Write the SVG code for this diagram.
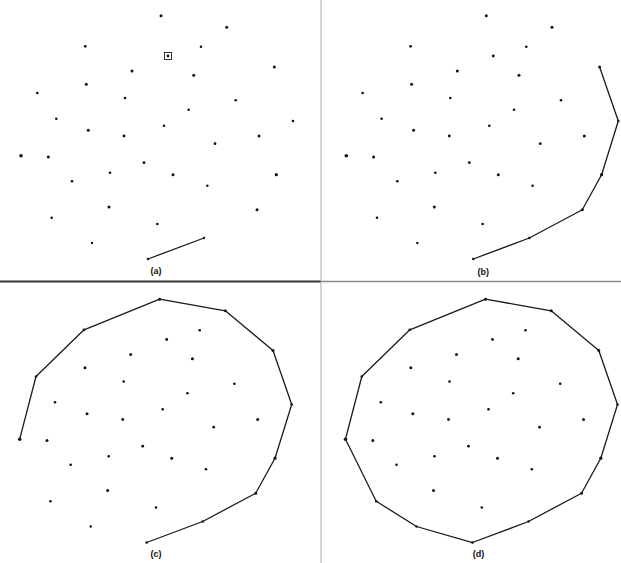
<svg xmlns="http://www.w3.org/2000/svg" xmlns:xlink="http://www.w3.org/1999/xlink" width="621" height="563" viewBox="0 0 621 563">
<style>
.pt{fill:#111}
.hull{fill:none;stroke:#1a1a1a;stroke-width:1.3;stroke-linejoin:round;stroke-linecap:round}
.lbl{font-family:"Liberation Sans",Arial,sans-serif;font-size:9px;font-weight:bold;fill:#111;text-anchor:middle}
</style>
<defs>
<g id="pts" class="pt">
<circle cx="85.3" cy="46.3" r="1.4"/>
<circle cx="132" cy="71" r="1.5"/>
<circle cx="86.3" cy="84.3" r="1.5"/>
<circle cx="37.3" cy="93" r="1.3"/>
<circle cx="125" cy="98" r="1.3"/>
<circle cx="56.3" cy="118.7" r="1.3"/>
<circle cx="88.3" cy="130.3" r="1.5"/>
<circle cx="124" cy="136" r="1.4"/>
<circle cx="21" cy="155.7" r="1.8"/>
<circle cx="48.3" cy="157" r="1.5"/>
<circle cx="144" cy="162.7" r="1.4"/>
<circle cx="110" cy="172.7" r="1.3"/>
<circle cx="72" cy="181.3" r="1.3"/>
<circle cx="109" cy="207" r="1.5"/>
<circle cx="51.7" cy="217.7" r="1.3"/>
<circle cx="92" cy="243" r="1.2"/>
<circle cx="157.3" cy="224" r="1.3"/>
<circle cx="161" cy="15.7" r="1.5"/>
<circle cx="226.7" cy="27.3" r="1.5"/>
<circle cx="201" cy="46.7" r="1.3"/>
<circle cx="168" cy="56" r="1.4"/>
<circle cx="274.3" cy="67" r="1.5"/>
<circle cx="193.7" cy="75.3" r="1.5"/>
<circle cx="235.7" cy="100.3" r="1.3"/>
<circle cx="188.7" cy="109.7" r="1.3"/>
<circle cx="164" cy="125.7" r="1.3"/>
<circle cx="293" cy="121" r="1.3"/>
<circle cx="259" cy="136" r="1.5"/>
<circle cx="215" cy="143.7" r="1.4"/>
<circle cx="173" cy="174.7" r="1.5"/>
<circle cx="276.3" cy="174.7" r="1.6"/>
<circle cx="207.3" cy="185.7" r="1.3"/>
<circle cx="257" cy="209.7" r="1.5"/>
<circle cx="148" cy="259" r="1.3"/>
<circle cx="204" cy="238" r="1.2"/>
</g>
</defs>
<rect width="621" height="563" fill="#fff"/>
<g id="dividers">
<line x1="0" y1="281.5" x2="321" y2="281.5" stroke="#333" stroke-width="1.8"/>
<line x1="321" y1="281.5" x2="621" y2="281.5" stroke="#8a8a8a" stroke-width="1.3"/>
<line x1="321" y1="0" x2="321" y2="563" stroke="#aaa" stroke-width="1"/>
</g>
<g id="panel-a">
<use xlink:href="#pts"/>
<rect x="164.5" y="52.5" width="7" height="7" fill="none" stroke="#333" stroke-width="1"/>
<polyline class="hull" points="148,259 204,238"/>
<text class="lbl" x="156" y="274">(a)</text>
</g>
<g id="panel-b" transform="translate(325.3,0)">
<use xlink:href="#pts"/>
<polyline class="hull" points="148,259 204,238 257,209.7 276.3,174.7 293,121 274.3,67"/>
<text class="lbl" x="158" y="275">(b)</text>
</g>
<g id="panel-c" transform="translate(-1.3,283.5)">
<use xlink:href="#pts"/>
<polyline class="hull" points="148,259 204,238 257,209.7 276.3,174.7 293,121 274.3,67 226.7,27.3 161,15.7 85.3,46.3 37.3,93 21,155.7"/>
<text class="lbl" x="157.3" y="273.5">(c)</text>
</g>
<g id="panel-d" transform="translate(324.5,283.5)">
<use xlink:href="#pts"/>
<polygon class="hull" points="148,259 204,238 257,209.7 276.3,174.7 293,121 274.3,67 226.7,27.3 161,15.7 85.3,46.3 37.3,93 21,155.7 51.7,217.7 92,243"/>
<text class="lbl" x="154" y="273.5">(d)</text>
</g>
</svg>
